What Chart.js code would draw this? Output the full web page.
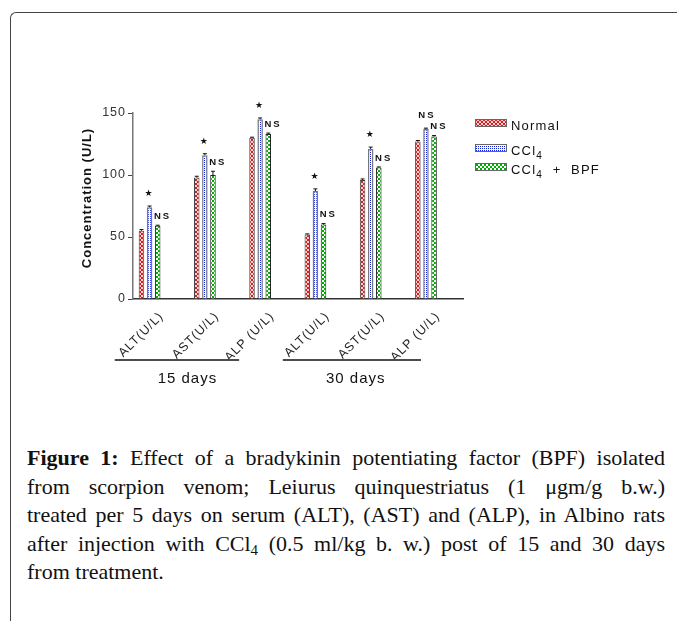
<!DOCTYPE html>
<html>
<head>
<meta charset="utf-8">
<script src="https://cdn.jsdelivr.net/npm/chart.js@4.4.1/dist/chart.umd.min.js"></script>
<style>
html,body{margin:0;padding:0;background:#fff;width:677px;height:621px;overflow:hidden;}
#frame{position:absolute;left:10px;top:12px;width:720px;height:660px;border-top:1.5px solid #444;border-left:1.5px solid #444;border-top-left-radius:6px;box-sizing:border-box;}
#chart{position:absolute;left:0;top:0;}
#caption{position:absolute;left:27px;top:444px;width:638px;font-family:'Liberation Serif',serif;font-size:22px;color:#111;}
.ln{text-align:justify;text-align-last:justify;height:28.6px;line-height:28.6px;}
.ln.last{text-align-last:left;}
b{font-weight:bold;}
sub{font-size:15px;line-height:0;vertical-align:-4px;}
</style>
</head>
<body>
<div id="frame"></div>
<canvas id="chart" width="677" height="420"></canvas>
<div id="caption">
<div class="ln"><b>Figure 1:</b> Effect of a bradykinin potentiating factor (BPF) isolated</div>
<div class="ln">from scorpion venom; Leiurus quinquestriatus (1 μgm/g b.w.)</div>
<div class="ln">treated per 5 days on serum (ALT), (AST) and (ALP), in Albino rats</div>
<div class="ln">after injection with CCl<sub>4</sub> (0.5 ml/kg b. w.) post of 15 and 30 days</div>
<div class="ln last">from treatment.</div>
</div>
<script>
// ---- data ----
const categories = ['ALT(U/L)', 'AST(U/L)', 'ALP (U/L)', 'ALT(U/L)', 'AST(U/L)', 'ALP (U/L)'];
const groupLabels = ['15 days', '30 days'];
const seriesNames = ['Normal', 'CCl₄', 'CCl₄  +  BPF'];
const normalValues = [55, 98, 130, 52, 96, 127];
const ccl4Values = [74, 116, 145, 87, 121, 137];
const bpfValues = [59, 100, 133, 60, 106, 131];
const normalErrors = [1, 1, 0.5, 0.5, 0.8, 0.8];
const ccl4Errors = [1, 1.2, 1, 1.8, 1.5, 0.8];
const bpfErrors = [0.5, 3, 0.8, 0.8, 0.5, 0.8];
const ccl4Marks = ['★', '★', '★', '★', '★', 'NS'];
const bpfMarks = ['NS', 'NS', 'NS', 'NS', 'NS', 'NS'];
const yTickValues = [0, 50, 100, 150];
const yTitle = 'Concentration (U/L)';

// ---- patterns ----
function makePattern(kind) {
  const c = document.createElement('canvas');
  const g = c.getContext('2d');
  if (kind === 'cross') {
    c.width = 4; c.height = 4;
    g.fillStyle = '#f6d0d0'; g.fillRect(0, 0, 4, 4);
    g.fillStyle = '#d42020';
    for (let i = 0; i < 4; i++) { g.fillRect(i, i, 1, 1); g.fillRect(3 - i, i, 1, 1); }
  } else if (kind === 'dots') {
    c.width = 2; c.height = 2;
    g.fillStyle = '#fff'; g.fillRect(0, 0, 2, 2);
    g.fillStyle = '#1020d0'; g.fillRect(0, 0, 1, 1);
  } else {
    c.width = 4; c.height = 4;
    g.fillStyle = '#fff'; g.fillRect(0, 0, 4, 4);
    g.fillStyle = '#00b000'; g.fillRect(0, 0, 2, 2); g.fillRect(2, 2, 2, 2);
  }
  return g.createPattern(c, 'repeat');
}

const ctx = document.getElementById('chart').getContext('2d');
const FONT = "'Liberation Sans', Arial, sans-serif";

const spacingPlugin = {
  id: 'spacing',
  beforeLayout(chart) { chart.ctx.letterSpacing = '1px'; },
  beforeDraw(chart) { chart.ctx.letterSpacing = '1px'; }
};

const yTitlePlugin = {
  id: 'yTitle',
  afterDraw(chart) {
    const c = chart.ctx, a = chart.chartArea;
    c.save();
    c.letterSpacing = '1px';
    c.translate(a.left - 46, (a.top + a.bottom) / 2 - 8);
    c.rotate(-Math.PI / 2);
    c.font = 'bold 13px ' + FONT;
    c.fillStyle = '#111';
    c.textAlign = 'center'; c.textBaseline = 'middle';
    c.fillText(yTitle, 0, 0);
    c.restore();
  }
};

const errorPlugin = {
  id: 'errs',
  afterDatasetsDraw(chart) {
    const c = chart.ctx, ys = chart.scales.y;
    c.save();
    c.strokeStyle = '#111'; c.lineWidth = 1;
    chart.data.datasets.forEach((ds, di) => {
      const meta = chart.getDatasetMeta(di);
      meta.data.forEach((el, i) => {
        const v = ds.data[i].y, e = ds.errors[i];
        const yt = ys.getPixelForValue(v + e);
        c.beginPath();
        c.moveTo(el.x, el.y); c.lineTo(el.x, yt);
        c.moveTo(el.x - 2, yt); c.lineTo(el.x + 2, yt);
        c.stroke();
      });
    });
    c.restore();
  }
};

const marksPlugin = {
  id: 'marks',
  afterDatasetsDraw(chart) {
    const c = chart.ctx, ys = chart.scales.y;
    c.save();
    c.fillStyle = '#111';
    c.textBaseline = 'middle';
    chart.data.datasets.forEach((ds, di) => {
      if (!ds.marks) return;
      const meta = chart.getDatasetMeta(di);
      meta.data.forEach((el, i) => {
        const m = ds.marks[i];
        const yt = ys.getPixelForValue(ds.data[i].y + ds.errors[i]);
        if (m === '★') {
          c.letterSpacing = '0px';
          c.font = "9px 'DejaVu Sans'";
          c.textAlign = 'center';
          c.fillText(m, el.x - 1, yt - 12);
        } else if (ds.marksAbove) {
          c.letterSpacing = '2px';
          c.font = "bold 9.5px " + FONT;
          c.textAlign = 'center';
          c.fillText(m, el.x + 1, yt - 13);
        } else {
          c.letterSpacing = '2px';
          c.font = "bold 9.5px " + FONT;
          c.textAlign = 'left';
          c.fillText(m, el.x - el.width / 2 - 1, yt - 9);
        }
      });
    });
    c.restore();
  }
};

const groupPlugin = {
  id: 'groups',
  afterDraw(chart, args, opts) {
    const c = chart.ctx, xs = chart.scales.x, bottom = chart.chartArea.bottom;
    c.save();
    c.letterSpacing = '1px';
    c.strokeStyle = '#111'; c.lineWidth = 1.5;
    c.fillStyle = '#111';
    c.font = '15px ' + FONT;
    c.textAlign = 'center'; c.textBaseline = 'middle';
    opts.groups.forEach(g => {
      const y = bottom + 61;
      c.beginPath();
      c.moveTo(xs.getPixelForValue(g.from), y);
      c.lineTo(xs.getPixelForValue(g.to), y);
      c.stroke();
      c.fillText(g.label, xs.getPixelForValue(g.center), bottom + 80);
    });
    c.restore();
  }
};

const legendPlugin = {
  id: 'customLegend',
  afterDraw(chart) {
    const c = chart.ctx;
    const x0 = chart.chartArea.right + 12;
    const rows = [119, 144, 163];
    c.save();
    c.letterSpacing = '1.2px';
    c.textBaseline = 'alphabetic';
    c.textAlign = 'left';
    chart.data.datasets.forEach((ds, i) => {
      const y = rows[i];
      c.fillStyle = ds.backgroundColor;
      c.fillRect(x0, y, 32, 8);
      c.strokeStyle = '#666'; c.lineWidth = 1;
      c.strokeRect(x0 + 0.5, y + 0.5, 31, 7);
      const parts = ds.label.split('₄');
      let tx = x0 + 36;
      const base = y + 11;
      c.fillStyle = '#111';
      parts.forEach((p, k) => {
        c.font = '13px ' + FONT;
        c.fillText(p, tx, base);
        tx += c.measureText(p).width;
        if (k < parts.length - 1) {
          c.font = '10px ' + FONT;
          c.fillText('4', tx, base + 4);
          tx += c.measureText('4').width;
        }
      });
    });
    c.restore();
  }
};

new Chart(ctx, {
  type: 'bar',
  data: {
    datasets: [
      {label: seriesNames[0], data: normalValues.map((v, i) => ({x: i, y: v})), errors: normalErrors,
       backgroundColor: makePattern('cross'), borderColor: '#444', borderWidth: 1},
      {label: seriesNames[1], data: ccl4Values.map((v, i) => ({x: i, y: v})), errors: ccl4Errors, marks: ccl4Marks, marksAbove: true,
       backgroundColor: makePattern('dots'), borderColor: '#777', borderWidth: 1.5},
      {label: seriesNames[2], data: bpfValues.map((v, i) => ({x: i, y: v})), errors: bpfErrors, marks: bpfMarks,
       backgroundColor: makePattern('check'), borderColor: '#222', borderWidth: 1}
    ]
  },
  options: {
    responsive: false,
    animation: false,
    layout: {padding: {left: 75, top: 113, right: 214, bottom: 61}},
    datasets: {bar: {categoryPercentage: 0.44, barPercentage: 0.68}},
    scales: {
      x: {
        type: 'linear', min: -0.3, max: 5.67, offset: false,
        grid: {display: false},
        border: {display: true, color: '#333', width: 1.5},
        ticks: {
          stepSize: 1, includeBounds: false, autoSkip: false, maxRotation: 45, minRotation: 45,
          labelOffset: 12, padding: 2,
          color: '#222', font: {family: FONT, size: 12.5},
          callback: (v) => Number.isInteger(v) && v >= 0 && v < categories.length ? categories[v] : ''
        },
        afterFit: (s) => { s.height = 60; }
      },
      y: {
        min: 0, max: 150,
        afterBuildTicks: (s) => { s.ticks = yTickValues.map(v => ({value: v})); },
        grid: {drawOnChartArea: false, tickLength: 5, color: '#444'},
        border: {color: '#777', width: 1.5},
        ticks: {color: '#333', font: {family: FONT, size: 12.5}, padding: 2},
        title: {display: false},
        afterFit: (s) => { s.width = 58; }
      }
    },
    plugins: {
      legend: {display: false},
      tooltip: {enabled: false},
      groups: {groups: [
        {label: groupLabels[0], from: -0.63, to: 1.62, center: 0.685},
        {label: groupLabels[1], from: 2.41, to: 4.91, center: 3.73}
      ]}
    }
  },
  plugins: [spacingPlugin, errorPlugin, marksPlugin, groupPlugin, legendPlugin, yTitlePlugin]
});
</script>
</body>
</html>
